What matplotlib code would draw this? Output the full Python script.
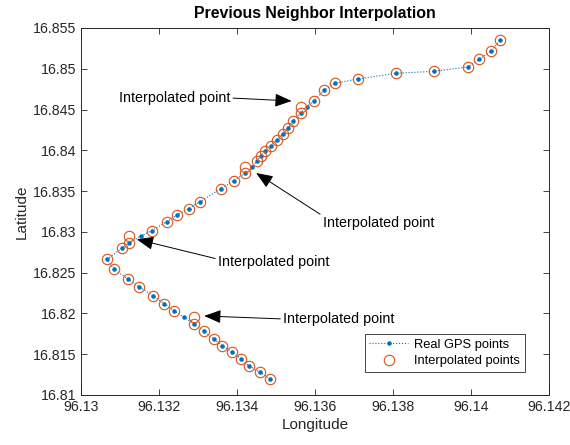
import matplotlib
matplotlib.use("Agg")
import matplotlib.pyplot as plt

plt.rcParams['font.family'] = ['Liberation Sans', 'DejaVu Sans']

# ===== Real GPS track (lon, lat), in order =====
real_lon = [96.13485, 96.13459, 96.13430, 96.13410, 96.13387, 96.13362, 96.13340,
            96.13316, 96.13290, 96.13265, 96.13239, 96.13214, 96.13185, 96.13149,
            96.13120, 96.13084, 96.13067, 96.13106, 96.13124, 96.13154, 96.13181,
            96.13220, 96.13245, 96.13276, 96.13305, 96.13358, 96.13392, 96.13420,
            96.13438, 96.13451, 96.13461, 96.13473, 96.13487, 96.13503, 96.13517,
            96.13532, 96.13544, 96.13563, 96.13579, 96.13597, 96.13624, 96.13652,
            96.13709, 96.13808, 96.13906, 96.13992, 96.14021, 96.14052, 96.14075]
real_lat = [16.81193, 16.81279, 16.81359, 16.81445, 16.81531, 16.81601, 16.81687,
            16.81781, 16.81867, 16.81953, 16.82030, 16.82120, 16.82214, 16.82328,
            16.82422, 16.82545, 16.82664, 16.82806, 16.82868, 16.82950, 16.83015,
            16.83125, 16.83203, 16.83284, 16.83370, 16.83530, 16.83628, 16.83718,
            16.83799, 16.83866, 16.83931, 16.83988, 16.84057, 16.84130, 16.84200,
            16.84278, 16.84363, 16.84454, 16.84535, 16.84605, 16.84740, 16.84822,
            16.84875, 16.84945, 16.84969, 16.85022, 16.85116, 16.85222, 16.85349]

# ===== Interpolated series (previous neighbor) =====
interp_lon = [96.13485, 96.13459, 96.13430, 96.13410, 96.13387, 96.13362, 96.13340,
              96.13316, 96.13290, 96.13290, 96.13239, 96.13214, 96.13185, 96.13149,
              96.13120, 96.13084, 96.13067, 96.13106, 96.13124, 96.13124, 96.13181,
              96.13220, 96.13245, 96.13276, 96.13305, 96.13358, 96.13392, 96.13420,
              96.13420, 96.13451, 96.13461, 96.13473, 96.13487, 96.13503, 96.13517,
              96.13532, 96.13544, 96.13563, 96.13563, 96.13597, 96.13624, 96.13652,
              96.13709, 96.13808, 96.13906, 96.13992, 96.14021, 96.14052, 96.14075]
interp_lat = [16.81193, 16.81279, 16.81359, 16.81445, 16.81531, 16.81601, 16.81687,
              16.81781, 16.81867, 16.81953, 16.82030, 16.82120, 16.82214, 16.82328,
              16.82422, 16.82545, 16.82664, 16.82806, 16.82868, 16.82950, 16.83015,
              16.83125, 16.83203, 16.83284, 16.83370, 16.83530, 16.83628, 16.83718,
              16.83799, 16.83866, 16.83931, 16.83988, 16.84057, 16.84130, 16.84200,
              16.84278, 16.84363, 16.84454, 16.84535, 16.84605, 16.84740, 16.84822,
              16.84875, 16.84945, 16.84969, 16.85022, 16.85116, 16.85222, 16.85349]

# ===== Annotations: text position, arrow tip, arrow start on the text =====
ann_text = ["Interpolated point"] * 4
ann_xytext = [(96.13240, 16.84642), (96.13763, 16.83109),
              (96.13494, 16.82631), (96.13661, 16.81932)]
ann_xy = [(96.13540, 16.84605), (96.13449, 16.83722),
          (96.13143, 16.82909), (96.13316, 16.81969)]
ann_relpos = [(1, 0.5), (0, 1), (0, 0.7), (0, 0.5)]

xticks = [96.13, 96.132, 96.134, 96.136, 96.138, 96.14, 96.142]
xticklabels = ["96.13", "96.132", "96.134", "96.136", "96.138", "96.14", "96.142"]
yticks = [16.81, 16.815, 16.82, 16.825, 16.83, 16.835, 16.84, 16.845, 16.85, 16.855]
yticklabels = ["16.81", "16.815", "16.82", "16.825", "16.83", "16.835",
               "16.84", "16.845", "16.85", "16.855"]

AX_COL = "#262626"

fig = plt.figure(figsize=(5.7, 4.45), dpi=100)
ax = fig.add_axes([0.1421, 0.1124, 0.8211, 0.8247])

ax.plot(real_lon, real_lat, linestyle=":", color="#0072BD", linewidth=0.8,
        marker=".", markersize=4.5, label="Real GPS points")
ax.plot(interp_lon, interp_lat, linestyle="none", marker="o", markersize=7.5,
        markerfacecolor="none", markeredgecolor="#D95319", markeredgewidth=0.8,
        label="Interpolated points")

for txt, xyt, xy, rp in zip(ann_text, ann_xytext, ann_xy, ann_relpos):
    ax.annotate(txt, xy=xy, xytext=xyt, textcoords="data", ha="center", va="center",
                fontsize=10.3, color="k",
                arrowprops=dict(arrowstyle="-|>,head_length=1.0,head_width=0.4",
                                color="k", lw=0.7, relpos=rp, shrinkA=0, shrinkB=0))

ax.set_xlim(96.13, 96.142)
ax.set_ylim(16.81, 16.855)
ax.set_xticks(xticks)
ax.set_xticklabels(xticklabels)
ax.set_yticks(yticks)
ax.set_yticklabels(yticklabels)
ax.tick_params(direction="in", top=True, right=True, length=4, width=0.6,
               colors=AX_COL, labelsize=10.2)
for sp in ax.spines.values():
    sp.set_color(AX_COL)
    sp.set_linewidth(0.7)

ax.set_title("Previous Neighbor Interpolation", fontsize=11.4, fontweight="bold",
             color="k", pad=7)
ax.set_xlabel("Longitude", fontsize=11, color=AX_COL, labelpad=3)
ax.set_ylabel("Latitude", fontsize=11, color=AX_COL, labelpad=3)

leg = ax.legend(loc="lower right", bbox_to_anchor=(0.962, 0.045), fontsize=9.3,
                fancybox=False, framealpha=1, edgecolor=AX_COL, handlelength=3.0,
                borderpad=0.35, labelspacing=0.35, handletextpad=0.5)
leg.get_frame().set_linewidth(0.6)

fig.savefig("out.png", dpi=100)
